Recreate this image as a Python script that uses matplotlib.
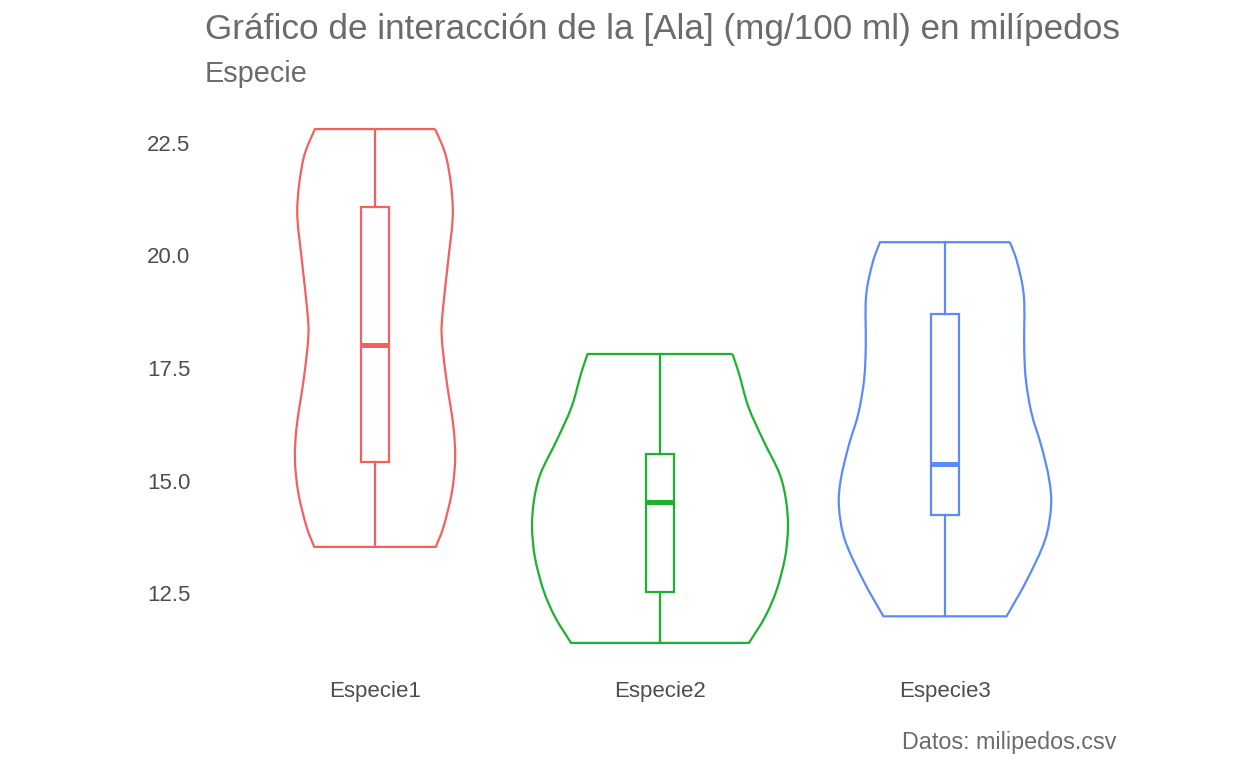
import matplotlib.pyplot as plt
from matplotlib.path import Path
from matplotlib.patches import PathPatch
import numpy as np

plt.rcParams['font.family'] = ['Liberation Sans', 'DejaVu Sans']

especies = ['Especie1', 'Especie2', 'Especie3']
colores = ['#F4605D', '#1CB22E', '#5A8BF8']

# violin outline: levels (mg/100 ml) and half widths
niveles1 = [22.80, 22.12, 21.01, 19.90, 18.79, 18.20, 17.31, 16.20, 15.46, 14.72, 13.97, 13.53]
ancho1 = [0.211, 0.252, 0.273, 0.257, 0.238, 0.234, 0.249, 0.275, 0.281, 0.269, 0.240, 0.213]
niveles2 = [17.81, 17.38, 16.64, 15.90, 15.16, 14.57, 13.97, 13.30, 12.57, 11.97, 11.40]
ancho2 = [0.254, 0.277, 0.310, 0.362, 0.419, 0.442, 0.449, 0.439, 0.409, 0.368, 0.312]
niveles3 = [20.29, 19.83, 19.08, 17.97, 17.23, 16.49, 15.75, 15.01, 14.42, 13.68, 12.79, 11.99]
ancho3 = [0.228, 0.254, 0.277, 0.278, 0.284, 0.304, 0.339, 0.366, 0.372, 0.351, 0.287, 0.216]

# boxplot stats
minimos = [13.53, 11.40, 11.99]
q1 = [15.41, 12.54, 14.23]
medianas = [18.01, 14.52, 15.37]
q3 = [21.06, 15.59, 18.70]
maximos = [22.80, 17.81, 20.29]

niveles = [niveles1, niveles2, niveles3]
anchos = [ancho1, ancho2, ancho3]


def curva(pts):
    # smooth path through the points (Catmull-Rom as cubic bezier)
    pts = np.asarray(pts, dtype=float)
    verts = [pts[0]]
    codes = [Path.MOVETO]
    n = len(pts)
    for i in range(n - 1):
        p0 = pts[max(i - 1, 0)]
        p1 = pts[i]
        p2 = pts[i + 1]
        p3 = pts[min(i + 2, n - 1)]
        c1 = p1 + (p2 - p0) / 6
        c2 = p2 - (p3 - p1) / 6
        verts += [c1, c2, p2]
        codes += [Path.CURVE4] * 3
    return verts, codes


fig = plt.figure(figsize=(12.48, 7.68), dpi=100)
ax = fig.add_axes([0.1635, 0.130, 0.7307, 0.736])

lw = 1.6
for i in range(3):
    x = i + 1
    col = colores[i]
    y = np.array(niveles[i])
    w = np.array(anchos[i])
    der = np.column_stack([x + w, y])
    izq = np.column_stack([x - w, y])[::-1]
    v1, c1 = curva(der)
    v2, c2 = curva(izq)
    c2[0] = Path.LINETO
    verts = v1 + v2 + [v1[0]]
    codes = c1 + c2 + [Path.LINETO]
    ax.add_patch(PathPatch(Path(verts, codes), facecolor='none', edgecolor=col, lw=lw))

    # box
    bw = 0.05
    ax.plot([x, x], [minimos[i], q1[i]], color=col, lw=lw)
    ax.plot([x, x], [q3[i], maximos[i]], color=col, lw=lw)
    ax.add_patch(plt.Rectangle((x - bw, q1[i]), 2 * bw, q3[i] - q1[i],
                               facecolor='none', edgecolor=col, lw=lw))
    ax.plot([x - bw, x + bw], [medianas[i], medianas[i]], color=col, lw=3.6,
            solid_capstyle='butt')

ax.set_xlim(0.4, 3.6)
ax.set_ylim(10.84, 23.38)
ax.set_xticks([1, 2, 3])
ax.set_xticklabels(especies)
ax.set_yticks([12.5, 15.0, 17.5, 20.0, 22.5])
ax.set_yticklabels(['12.5', '15.0', '17.5', '20.0', '22.5'])
ax.tick_params(length=0, labelsize=16, colors='#4d4d4d')
ax.tick_params(axis='y', pad=10)
ax.tick_params(axis='x', pad=9)
for s in ax.spines.values():
    s.set_visible(False)

fig.text(205 / 1248, 1 - 29 / 768, 'Gráfico de interacción de la [Ala] (mg/100 ml) en milípedos',
         fontsize=25.3, color='#6b6b6b', va='center', ha='left')
fig.text(205 / 1248, 1 - 74 / 768, 'Especie', fontsize=20.8, color='#6b6b6b', va='center', ha='left')
fig.text(1116 / 1248, 1 - 742 / 768, 'Datos: milipedos.csv', fontsize=16.8, color='#6b6b6b',
         va='center', ha='right')

fig.savefig('out.png', dpi=100)
